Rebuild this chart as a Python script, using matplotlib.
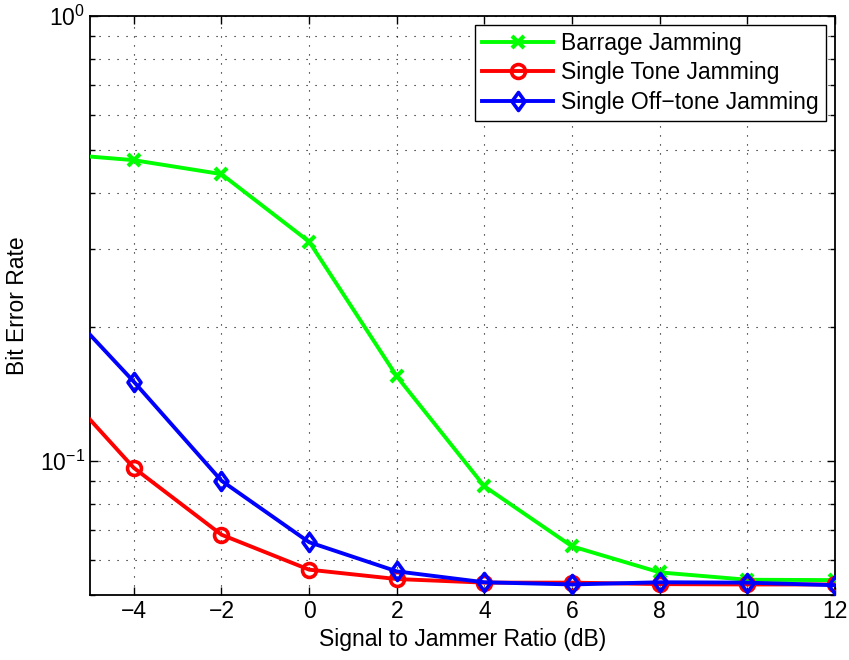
import numpy as np
import matplotlib
matplotlib.use('agg')
import matplotlib.pyplot as plt
from matplotlib.path import Path
from matplotlib.ticker import LogLocator, NullFormatter, FixedLocator

plt.rcParams['font.family'] = ['Liberation Sans', 'DejaVu Sans']

# SJR sweep (dB) and measured BER per jamming type
sjr_db = [-6, -4, -2, 0, 2, 4, 6, 8, 10, 12]
ber_barrage = [0.492, 0.474, 0.441, 0.311, 0.155, 0.0877, 0.0643, 0.0562, 0.0541, 0.0540]
ber_single_tone = [0.159, 0.0965, 0.0683, 0.0570, 0.0543, 0.0533, 0.0533, 0.0529, 0.0528, 0.0528]
ber_off_tone = [0.245, 0.1507, 0.0903, 0.0657, 0.0565, 0.0534, 0.0528, 0.0534, 0.0533, 0.0526]

labels = ['Barrage Jamming', 'Single Tone Jamming', 'Single Off\u2212tone Jamming']
xticks = [-4, -2, 0, 2, 4, 6, 8, 10, 12]

# slightly wider diamond than matplotlib's 'd'
diamond = Path([(0, 1), (0.72, 0), (0, -1), (-0.72, 0), (0, 1)],
               [Path.MOVETO, Path.LINETO, Path.LINETO, Path.LINETO, Path.CLOSEPOLY])

fig = plt.figure(figsize=(8.49, 6.6), dpi=100)
ax = fig.add_axes([0.106, 0.0985, 0.8775, 0.8775])

lw = 2.8
ax.semilogy(sjr_db, ber_barrage, color='#00ff00', lw=lw, marker='x', ms=8, mew=3,
            label=labels[0], zorder=3)
ax.semilogy(sjr_db, ber_single_tone, color='#ff0000', lw=lw, marker='o', ms=10, mew=2.6,
            mfc='none', label=labels[1], zorder=4)
ax.semilogy(sjr_db, ber_off_tone, color='#0000ff', lw=lw, marker=diamond, ms=13, mew=2.6,
            mfc='none', label=labels[2], zorder=5)

ax.set_xlim(-5, 12)
ax.set_ylim(0.05, 1)
ax.xaxis.set_major_locator(FixedLocator(xticks))
ax.set_xticklabels(['\u2212%d' % -t if t < 0 else str(t) for t in xticks])
ax.yaxis.set_major_locator(LogLocator(base=10))
ax.yaxis.set_minor_locator(LogLocator(base=10, subs=np.arange(2, 10)))
ax.yaxis.set_minor_formatter(NullFormatter())

dots = (0, (1, 7.1))
ax.grid(True, which='major', ls=dots, color='black', lw=0.8)
ax.grid(True, which='minor', axis='y', ls=dots, color='black', lw=0.8)

ax.tick_params(which='both', direction='in', top=True, right=True, labelsize=16.5)
ax.tick_params(which='major', length=6, width=1)
ax.tick_params(which='minor', length=3.5, width=1)
for sp in ax.spines.values():
    sp.set_linewidth(1.3)

ax.set_xlabel('Signal to Jammer Ratio (dB)', fontsize=16.5, labelpad=4)
ax.set_ylabel('Bit Error Rate', fontsize=16.5, labelpad=8)

leg = ax.legend(loc='upper right', fontsize=16.5, fancybox=False, framealpha=1,
                edgecolor='black', borderpad=0.3, handlelength=3.1, handletextpad=0.36,
                labelspacing=0.28, borderaxespad=0.4, numpoints=1)
leg.get_frame().set_linewidth(1.0)

fig.savefig('out.png', dpi=100)
